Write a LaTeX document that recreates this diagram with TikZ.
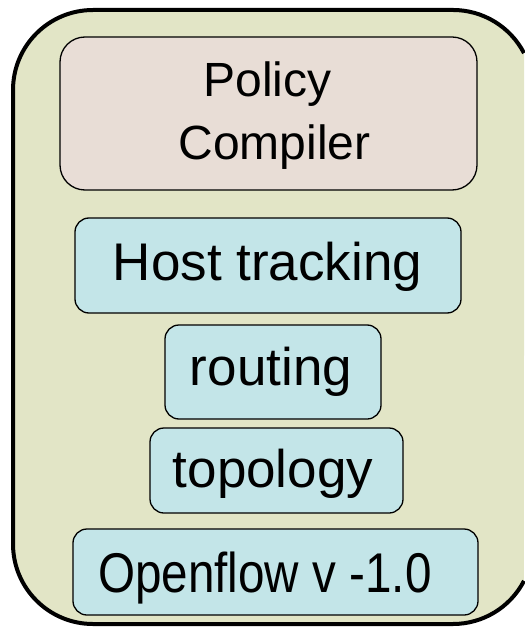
\documentclass[tikz,border=0pt]{standalone}
\usepackage{fontspec}
\setmainfont{Liberation Sans}
\definecolor{outerfill}{HTML}{E2E5C6}
\definecolor{policyfill}{HTML}{E8DDD6}
\definecolor{modfill}{HTML}{C3E5E8}
\begin{document}
\begin{tikzpicture}[x=1pt,y=-1pt,
  outerline/.style={draw=black,line width=4pt},
  policybox/.style={draw=black,line width=1.3pt,fill=policyfill,rounded corners=25pt,inner sep=0pt},
  modbox/.style={draw=black,line width=1.3pt,fill=modfill,rounded corners=14pt,inner sep=0pt},
  lbl/.style={inner sep=0pt,anchor=base,font=\fontsize{53}{60}\selectfont},
  plbl/.style={inner sep=0pt,anchor=base,font=\fontsize{48}{60}\selectfont}]
\useasboundingbox (0,0) rectangle (524,628);
\fill[white] (0,0) rectangle (524,628);
\fill[outerfill] (524,53.1) arc[start angle=27.46,end angle=90,radius=80pt] -- (93,10)
  arc[start angle=90,end angle=180,radius=80pt] -- (13,544)
  arc[start angle=180,end angle=270,radius=80pt] -- (453,624)
  arc[start angle=270,end angle=332.54,radius=80pt] -- cycle;
\draw[outerline] (524,53.1) arc[start angle=27.46,end angle=90,radius=80pt] -- (93,10)
  arc[start angle=90,end angle=180,radius=80pt] -- (13,544)
  arc[start angle=180,end angle=270,radius=80pt] -- (453,624)
  arc[start angle=270,end angle=332.54,radius=80pt];
\node[policybox,minimum width=417pt,minimum height=153pt] (policy) at (268.5,113.5) {};
\node[modbox,minimum width=386pt,minimum height=95pt] (host) at (268,265.5) {};
\node[modbox,minimum width=216pt,minimum height=94pt] (routing) at (273,372) {};
\node[modbox,minimum width=253pt,minimum height=85pt] (topo) at (276.5,470.5) {};
\node[modbox,minimum width=405pt,minimum height=86pt] (of) at (275.5,572) {};
\node[plbl] (policyt1) at (267.5,97) {Policy};
\node[plbl] (policyt2) at (274.5,160) {Compiler};
\node[lbl] (hostt) at (267.5,280) {Host tracking};
\node[lbl] (routingt) at (271,385) {routing};
\node[lbl] (topot) at (273,487) {topology};
\node[lbl,anchor=base west,font=\fontsize{56}{60}\selectfont,xscale=0.85] (oft) at (98,592) {Openflow v -1.0};
\end{tikzpicture}
\end{document}
